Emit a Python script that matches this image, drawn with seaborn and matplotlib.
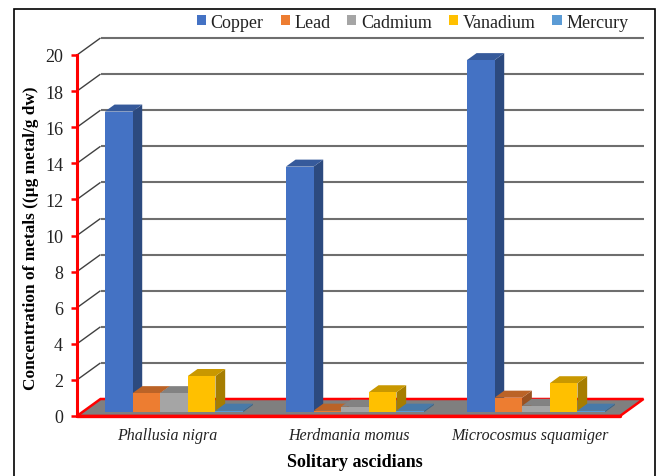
import matplotlib
matplotlib.use('Agg')
import matplotlib.pyplot as plt
import pandas as pd
import seaborn as sns
from matplotlib.patches import Polygon, Rectangle
from matplotlib.colors import to_rgb

species = ['Phallusia nigra', 'Herdmania momus', 'Microcosmus squamiger']
metals = ['Copper', 'Lead', 'Cadmium', 'Vanadium', 'Mercury']
copper = [16.65, 13.6, 19.5]
lead = [1.05, 0.08, 0.8]
cadmium = [1.05, 0.3, 0.35]
vanadium = [2.0, 1.1, 1.6]
mercury = [0.08, 0.08, 0.08]
yticks = list(range(0, 21, 2))
colors = ['#4472C4', '#ED7D31', '#A5A5A5', '#FFC000', '#5B9BD5']

sns.set_theme(style='white')
plt.rcParams['font.family'] = ['Liberation Serif', 'DejaVu Serif']

W, H = 660, 477
fig = plt.figure(figsize=(W / 100, H / 100), dpi=100)
ax = fig.add_axes([77 / W, (H - 417) / H, 543 / W, 361 / H])

df = pd.DataFrame({'species': species, 'Copper': copper, 'Lead': lead,
                   'Cadmium': cadmium, 'Vanadium': vanadium, 'Mercury': mercury})
long_df = df.melt(id_vars='species', var_name='metal', value_name='conc')
sns.barplot(data=long_df, x='species', y='conc', hue='metal', hue_order=metals,
            palette=colors, width=0.764, gap=0, saturation=1, linewidth=0,
            errorbar=None, ax=ax)

ax.set_xlim(-0.5, 2.5)
ax.set_ylim(0, 20)
px_x = 3 / 543   # data units per pixel
px_y = 20 / 361

# back wall and floor of the fake 3d box
wall_dx, wall_dy = 23.5 * px_x, 17 * px_y
left, right = -0.5, 2.5
floor = Polygon([(left, 0), (right, 0), (right + wall_dx, wall_dy), (left + wall_dx, wall_dy)],
                closed=True, facecolor='#7f7f7f', edgecolor='#ff0000', linewidth=1.8,
                clip_on=False, zorder=1)
ax.add_patch(floor)
for v in yticks[1:]:
    ax.plot([left, left + wall_dx], [v, v + wall_dy], color='#404040', lw=1.0,
            clip_on=False, zorder=0.8, solid_capstyle='butt')
    ax.plot([left + wall_dx, right + wall_dx], [v + wall_dy, v + wall_dy], color='#6e6e6e', lw=1.5,
            clip_on=False, zorder=0.8, solid_capstyle='butt')
ax.plot([left, right], [0, 0], color='#ff0000', lw=2.4, clip_on=False, zorder=1.5)

# depth faces, left to right so the next bar covers the previous side
bars = sorted([p for p in ax.patches if isinstance(p, Rectangle) and p.get_height() > 0],
              key=lambda p: p.get_x())
shift_x, shift_y = 6.5 * px_x, 3.9 * px_y
depth_x, depth_y = 9.7 * px_x, 7 * px_y


def shade(col, k):
    return tuple(c * k for c in to_rgb(col))


for i, p in enumerate(bars):
    p.set_x(p.get_x() + shift_x)
    p.set_y(shift_y)
    p.set_zorder(2 + i * 0.1 + 0.02)
    p.set_clip_on(False)
    x0, w, top = p.get_x(), p.get_width(), p.get_y() + p.get_height()
    col = p.get_facecolor()
    ax.add_patch(Polygon([(x0, top), (x0 + w, top), (x0 + w + depth_x, top + depth_y), (x0 + depth_x, top + depth_y)],
                         closed=True, facecolor=shade(col, 0.79), linewidth=0, clip_on=False, zorder=2 + i * 0.1 + 0.01))
    ax.add_patch(Polygon([(x0 + w, shift_y), (x0 + w, top), (x0 + w + depth_x, top + depth_y), (x0 + w + depth_x, shift_y + depth_y)],
                         closed=True, facecolor=shade(col, 0.65), linewidth=0, clip_on=False, zorder=2 + i * 0.1))

for side in ['top', 'right', 'bottom']:
    ax.spines[side].set_visible(False)
ax.spines['left'].set_color('#ff0000')
ax.spines['left'].set_linewidth(2.2)
ax.spines['left'].set_zorder(5)

ax.set_yticks(yticks)
ax.tick_params(axis='y', left=True, length=4, width=1.8, color='#ff0000', labelsize=13,
               labelcolor='#222222', pad=6)
ax.tick_params(axis='x', bottom=False, labelsize=11.5, labelcolor='#222222', pad=2.2)
for t in ax.get_xticklabels():
    t.set_fontstyle('italic')

ax.set_xlabel('Solitary ascidians', fontsize=13, fontweight='bold', color='black')
ax.xaxis.set_label_coords((355 - 77) / 543, (417 - 454) / 361, transform=ax.transAxes)
ax.set_ylabel('Concentration of metals ((µg metal/g dw)', fontsize=12.4, fontweight='bold', color='black')
ax.yaxis.set_label_coords((39 - 77) / 543, 0.496, transform=ax.transAxes)

handles, labels = ax.get_legend_handles_labels()
ax.legend(handles, labels, ncol=5, frameon=False, loc='center', bbox_to_anchor=((412.5 - 77) / 543, (417 - 23) / 361),
          fontsize=13, handlelength=0.5, handleheight=0.5, handletextpad=0.25, columnspacing=0.95,
          borderpad=0, labelcolor='#222222')

# black picture frame, runs off the bottom
fig.add_artist(Rectangle((13.5 / W, -0.02), (655 - 13.5) / W, (H - 9.5) / H + 0.02, transform=fig.transFigure,
                         fill=False, edgecolor='black', linewidth=1.2))

fig.savefig('out.png', dpi=100)
